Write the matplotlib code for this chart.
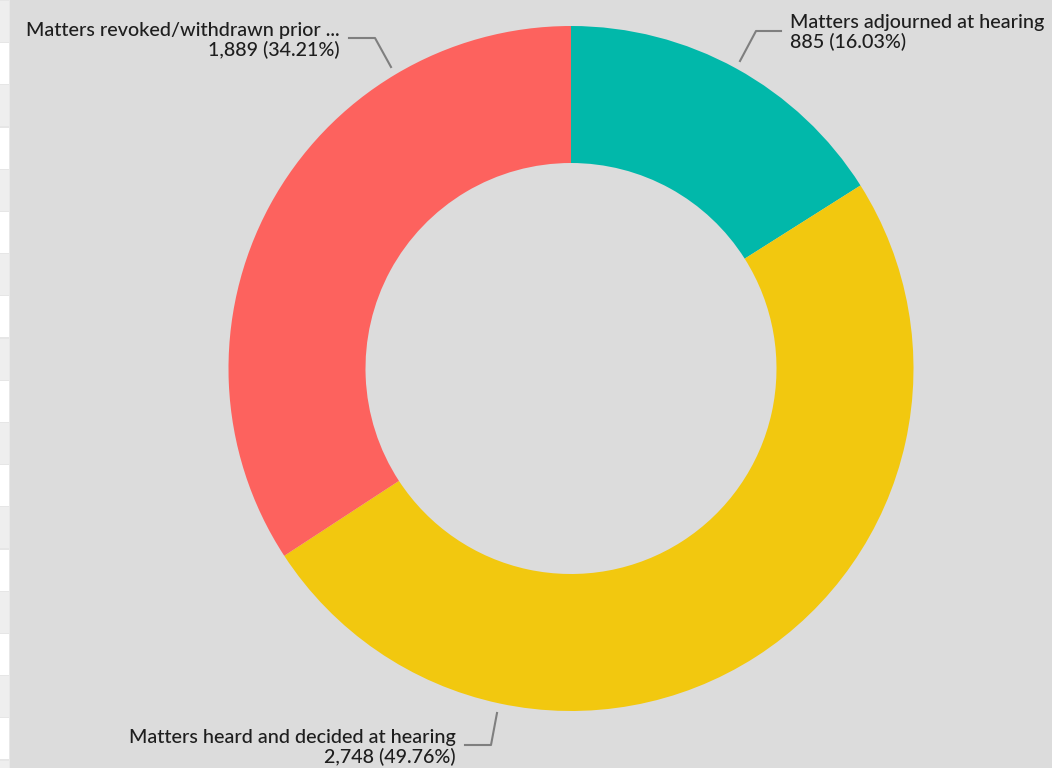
import matplotlib
matplotlib.use("Agg")
import matplotlib.pyplot as plt
from matplotlib.patches import Rectangle

categories = ["Matters adjourned at hearing",
              "Matters heard and decided at hearing",
              "Matters revoked/withdrawn prior ..."]
values = [885, 2748, 1889]
colors = ["#01B8AA", "#F2C80F", "#FD625E"]

W, H = 1052, 768
fig = plt.figure(figsize=(W / 100, H / 100), dpi=100)
fig.patch.set_facecolor("#DCDCDC")
ax = fig.add_axes([0, 0, 1, 1])
ax.set_xlim(0, W)
ax.set_ylim(0, H)
ax.set_aspect("equal")
ax.axis("off")

# left strip (table rows behind)
for i in range(20):
    y0 = i * 42.2
    c = "#EEEEEE" if i % 2 == 0 else "#FFFFFF"
    ax.add_patch(Rectangle((0, H - y0 - 42.2), 9, 42.2, facecolor=c, edgecolor="none", zorder=0))
    ax.add_patch(Rectangle((0, H - y0 - 1), 9, 1.3, facecolor="#E6E6E6", edgecolor="none", zorder=0))
ax.add_patch(Rectangle((9, 0), 1.2, H, facecolor="#E8E8E8", edgecolor="none", zorder=0))
ax.add_patch(Rectangle((10.2, 0), W, H, facecolor="#DCDCDC", edgecolor="none", zorder=0))

cx, cy, R = 571, H - 368.5, 342.5
ax.pie(values, colors=colors, startangle=90, counterclock=False,
       radius=R, center=(cx, cy), frame=False,
       wedgeprops=dict(width=R * 0.4, edgecolor="none"))
ax.set_xlim(0, W)
ax.set_ylim(0, H)

total = sum(values)
def lab(i):
    v = values[i]
    return f"{categories[i]}\n{v:,} ({v / total * 100:.2f}%)"

fam = ["Lato", "DejaVu Sans"]
tc = "#1E1E1E"
lc = "#7F7F7F"
fs = 14.2
ls = 1.12
wt = "medium"

def Y(y):
    return H - y

# teal
ax.plot([740, 756, 781], [Y(61), Y(31), Y(31)], color=lc, lw=1.5, zorder=5)
ax.text(790, Y(32.5), lab(0), ha="left", va="center", fontsize=fs, color=tc,
        family=fam, weight=wt, linespacing=ls, zorder=6)
# yellow
ax.plot([497, 491, 465], [Y(713), Y(745), Y(745)], color=lc, lw=1.5, zorder=5)
ax.text(456, Y(747.5), lab(1), ha="right", va="center", fontsize=fs, color=tc,
        family=fam, weight=wt, linespacing=ls, multialignment="right", zorder=6)
# red
ax.plot([391, 375, 349], [Y(67), Y(38), Y(38)], color=lc, lw=1.5, zorder=5)
ax.text(340, Y(40.5), lab(2), ha="right", va="center", fontsize=fs, color=tc,
        family=fam, weight=wt, linespacing=ls, multialignment="right", zorder=6)

fig.savefig("out.png", dpi=100, facecolor=fig.get_facecolor())
